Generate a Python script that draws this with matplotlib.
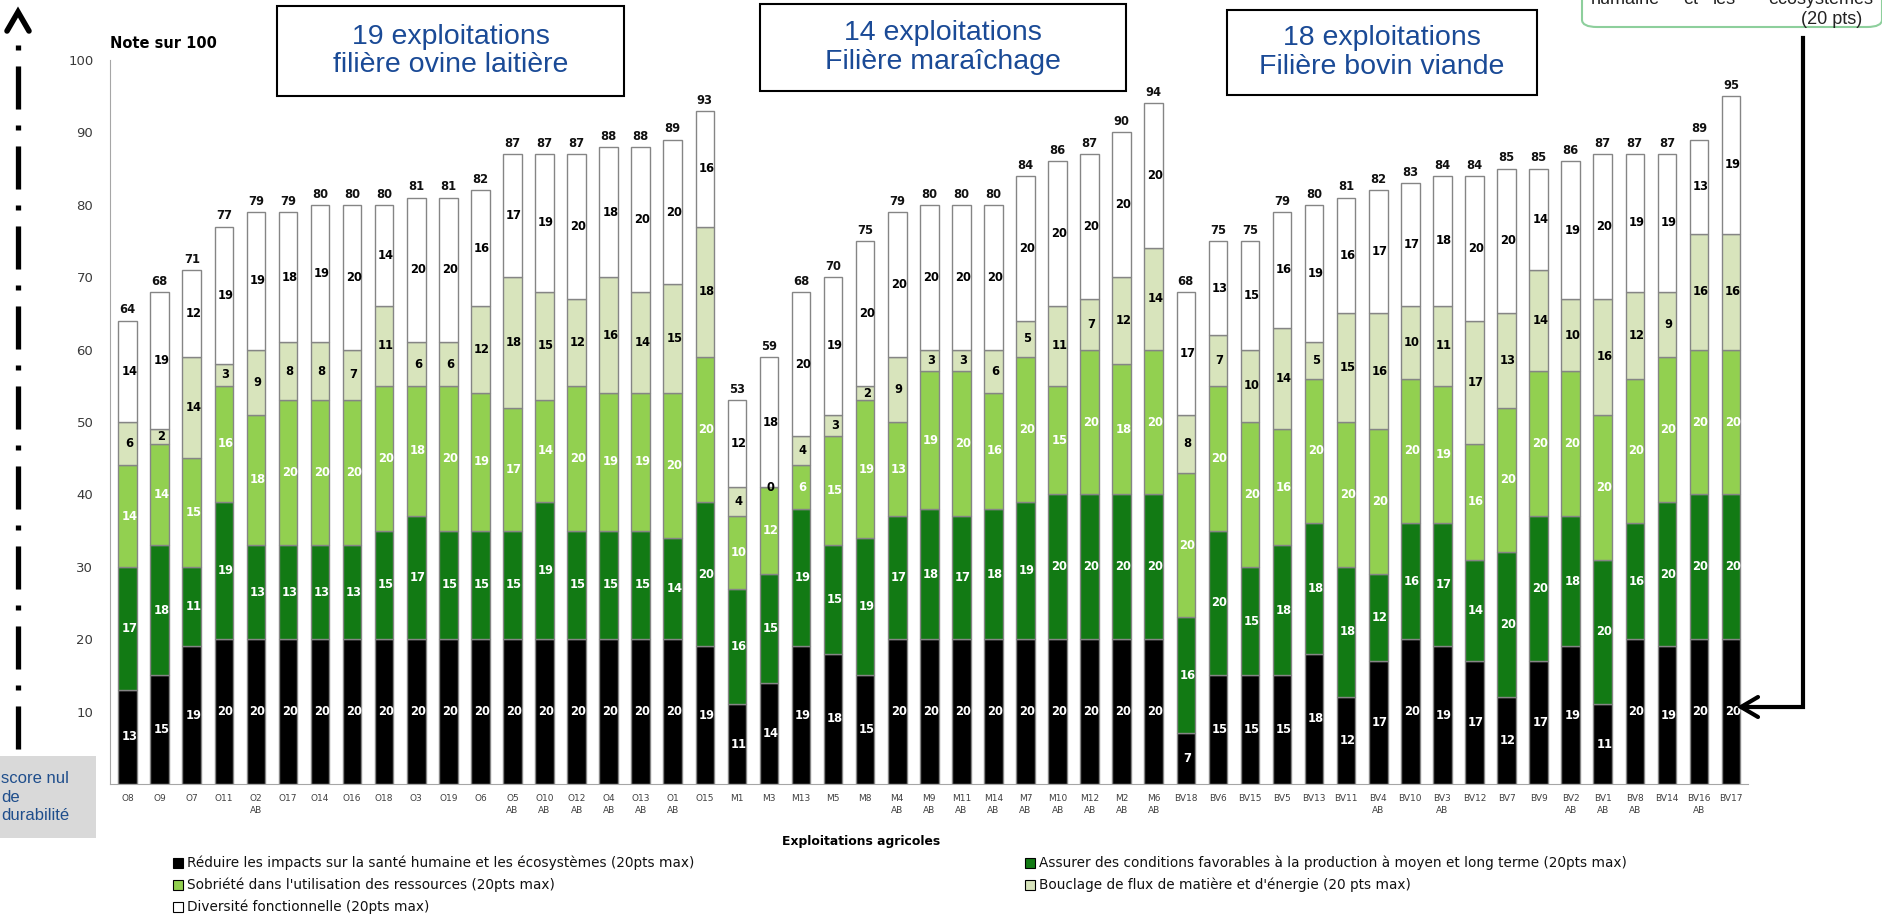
import matplotlib
matplotlib.use("Agg")
import matplotlib.pyplot as plt
from matplotlib.lines import Line2D
from matplotlib.patches import Rectangle, FancyBboxPatch, Wedge
import numpy as np

# ---------------------------------------------------------------- data
farms = [
    # filière ovine laitière
    "O8", "O9", "O7", "O11", "O2\nAB", "O17", "O14", "O16", "O18", "O3", "O19", "O6",
    "O5\nAB", "O10\nAB", "O12\nAB", "O4\nAB", "O13\nAB", "O1\nAB", "O15",
    # filière maraîchage
    "M1", "M3", "M13", "M5", "M8", "M4\nAB", "M9\nAB", "M11\nAB", "M14\nAB", "M7\nAB",
    "M10\nAB", "M12\nAB", "M2\nAB", "M6\nAB",
    # filière bovin viande
    "BV18", "BV6", "BV15", "BV5", "BV13", "BV11", "BV4\nAB", "BV10", "BV3\nAB", "BV12",
    "BV7", "BV9", "BV2\nAB", "BV1\nAB", "BV8\nAB", "BV14", "BV16\nAB", "BV17",
]

reduire = [13, 15, 19, 20, 20, 20, 20, 20, 20, 20, 20, 20, 20, 20, 20, 20, 20, 20, 19,
           11, 14, 19, 18, 15, 20, 20, 20, 20, 20, 20, 20, 20, 20,
           7, 15, 15, 15, 18, 12, 17, 20, 19, 17, 12, 17, 19, 11, 20, 19, 20, 20]
assurer = [17, 18, 11, 19, 13, 13, 13, 13, 15, 17, 15, 15, 15, 19, 15, 15, 15, 14, 20,
           16, 15, 19, 15, 19, 17, 18, 17, 18, 19, 20, 20, 20, 20,
           16, 20, 15, 18, 18, 18, 12, 16, 17, 14, 20, 20, 18, 20, 16, 20, 20, 20]
sobriete = [14, 14, 15, 16, 18, 20, 20, 20, 20, 18, 20, 19, 17, 14, 20, 19, 19, 20, 20,
            10, 12, 6, 15, 19, 13, 19, 20, 16, 20, 15, 20, 18, 20,
            20, 20, 20, 16, 20, 20, 20, 20, 19, 16, 20, 20, 20, 20, 20, 20, 20, 20]
bouclage = [6, 2, 14, 3, 9, 8, 8, 7, 11, 6, 6, 12, 18, 15, 12, 16, 14, 15, 18,
            4, 0, 4, 3, 2, 9, 3, 3, 6, 5, 11, 7, 12, 14,
            8, 7, 10, 14, 5, 15, 16, 10, 11, 17, 13, 14, 10, 16, 12, 9, 16, 16]
diversite = [14, 19, 12, 19, 19, 18, 19, 20, 14, 20, 20, 16, 17, 19, 20, 18, 20, 20, 16,
             12, 18, 20, 19, 20, 20, 20, 20, 20, 20, 20, 20, 20, 20,
             17, 13, 15, 16, 19, 16, 17, 17, 18, 20, 20, 14, 19, 20, 19, 19, 13, 19]

series_names = [
    "Réduire les impacts sur la santé humaine et les écosystèmes (20pts max)",
    "Assurer des conditions favorables à la production à moyen et long terme (20pts max)",
    "Sobriété dans l'utilisation des ressources (20pts max)",
    "Bouclage de flux de matière et d'énergie (20 pts max)",
    "Diversité fonctionnelle (20pts max)",
]
group_titles = [
    "19 exploitations\nfilière ovine laitière",
    "14 exploitations\nFilière maraîchage",
    "18 exploitations\nFilière bovin viande",
]
y_ticks = [10, 20, 30, 40, 50, 60, 70, 80, 90, 100]

# ---------------------------------------------------------------- style
colors = ["#000000", "#127a14", "#92d050", "#d8e4bc", "#ffffff"]
label_colors = ["white", "white", "white", "black", "black"]
title_blue = "#1a4a96"

plt.rcParams["lines.scale_dashes"] = False

W, H = 1883, 916
fig = plt.figure(figsize=(W / 100, H / 100), dpi=100)


def fx(x):
    return x / W


def fy(y):
    return 1 - y / H


ax = fig.add_axes([fx(110), fy(784), (1748 - 110) / W, (784 - 60) / H])

series = [reduire, assurer, sobriete, bouclage, diversite]
x = np.arange(len(farms))
bottom = np.zeros(len(farms))
for vals, col, lcol, name in zip(series, colors, label_colors, series_names):
    vals = np.asarray(vals, dtype=float)
    ax.bar(x, vals, width=0.58, bottom=bottom, color=col,
           edgecolor="#858585", linewidth=1.0, label=name, zorder=2)
    for xi, b, v in zip(x, bottom, vals):
        ax.text(xi + 0.05, b + v / 2, f"{int(v)}", ha="center", va="center",
                fontsize=8.3, fontweight="bold", color=lcol, zorder=3,
                family="DejaVu Sans")
    bottom = bottom + vals

totals = bottom
for xi, t in zip(x, totals):
    ax.annotate(f"{int(t)}", (xi, t), xytext=(0, 3), textcoords="offset points",
                ha="center", va="bottom", fontsize=8.3, fontweight="bold",
                color="#111111", family="DejaVu Sans")

ax.set_xlim(-0.55, 50.53)
ax.set_ylim(0, 100)
ax.set_yticks(y_ticks)
ax.set_yticklabels([str(v) for v in y_ticks], fontsize=9.5, color="#3a3a3a",
                   family="DejaVu Sans")
ax.set_xticks(x)
ax.set_xticklabels(farms, fontsize=6.5, color="#404040", family="DejaVu Sans",
                   linespacing=1.45)
ax.tick_params(axis="both", length=0)
ax.tick_params(axis="y", pad=12)
ax.tick_params(axis="x", pad=7)
for side in ("top", "right"):
    ax.spines[side].set_visible(False)
ax.spines["left"].set_color("#a6a6a6")
ax.spines["bottom"].set_color("#a6a6a6")

narrow = ["Liberation Sans Narrow", "DejaVu Sans"]

fig.text(fx(110), fy(43), "Note sur 100", fontsize=10.5, fontweight="bold",
         family=narrow, ha="left", va="center")
fig.text(fx(861), fy(842), "Exploitations agricoles", fontsize=8.9,
         fontweight="bold", family=narrow, ha="center", va="center")

# legend, laid out in two columns
legend_rows = [(178, 863, 0), (178, 885, 2), (178, 907, 4), (1030, 863, 1), (1030, 885, 3)]
for lx, ly, k in legend_rows:
    fig.add_artist(Rectangle((fx(lx - 5), fy(ly + 5)), 10 / W, 10 / H,
                             transform=fig.transFigure, facecolor=colors[k],
                             edgecolor="black", linewidth=0.8))
    fig.text(fx(lx + 9), fy(ly), series_names[k], fontsize=9.8, family=narrow,
             ha="left", va="center", color="#111111")

# group title boxes
boxes = [(277, 6, 624, 96), (760, 4, 1126, 91), (1227, 10, 1537, 95)]
for (x0, y0, x1, y1), title in zip(boxes, group_titles):
    fig.add_artist(Rectangle((fx(x0), fy(y1)), (x1 - x0) / W, (y1 - y0) / H,
                             transform=fig.transFigure, facecolor="white",
                             edgecolor="black", linewidth=1.5))
    fig.text(fx((x0 + x1) / 2), fy((y0 + y1) / 2), title, fontsize=20.5,
             color=title_blue, family="Liberation Sans", ha="center",
             va="center", linespacing=1.15)

# note box in the top-right corner
fig.add_artist(FancyBboxPatch((fx(1582), fy(27)), (1882 - 1582) / W, 60 / H,
                              boxstyle="round,pad=0,rounding_size=0.008",
                              transform=fig.transFigure, facecolor="white",
                              edgecolor="#8dcf9c", linewidth=1.5))
for word, wx in [("humaine", 1591), ("et", 1683), ("les", 1713), ("écosystèmes", 1768)]:
    fig.text(fx(wx), fy(-1), word, fontsize=13, family="Liberation Sans",
             ha="left", va="center", color="#222222")
fig.text(fx(1862), fy(20), "(20 pts)", fontsize=13, family="Liberation Sans",
         ha="right", va="center", color="#222222")

# elbow arrow pointing at the last bar
fig.add_artist(Line2D([fx(1803), fx(1803), fx(1742)], [fy(38), fy(707), fy(707)],
                      transform=fig.transFigure, color="black", linewidth=3,
                      solid_joinstyle="miter"))
fig.add_artist(Line2D([fx(1758), fx(1741), fx(1758)], [fy(697), fy(707), fy(717)],
                      transform=fig.transFigure, color="black", linewidth=3,
                      solid_capstyle="round", solid_joinstyle="miter"))

# dash-dot scale arrow on the left
dash = Line2D([fx(18), fx(18)], [fy(45), fy(752)], transform=fig.transFigure,
              color="black", linewidth=3.8, dash_capstyle="butt",
              linestyle=(0, (3.6, 11.5, 31, 11.5)))
fig.add_artist(dash)
fig.add_artist(Line2D([fx(7), fx(18), fx(29)], [fy(31), fy(12), fy(31)],
                      transform=fig.transFigure, color="black", linewidth=4,
                      solid_joinstyle="miter", solid_capstyle="round"))

# grey caption box at the bottom left
fig.add_artist(Rectangle((0, fy(838)), 96 / W, (838 - 756) / H,
                         transform=fig.transFigure, facecolor="#d9d9d9",
                         edgecolor="none"))
fig.text(fx(1), fy(797), "score nul\nde\ndurabilité", fontsize=12,
         family="Liberation Sans", color="#1f4e8c", ha="left", va="center",
         linespacing=1.3)

# decorative quarter disc
fig.add_artist(Wedge((fx(60), fy(940)), 38 / W, 90, 180, transform=fig.transFigure,
                     facecolor="#c8ebee", edgecolor="none"))

fig.savefig("out.png", dpi=100)
